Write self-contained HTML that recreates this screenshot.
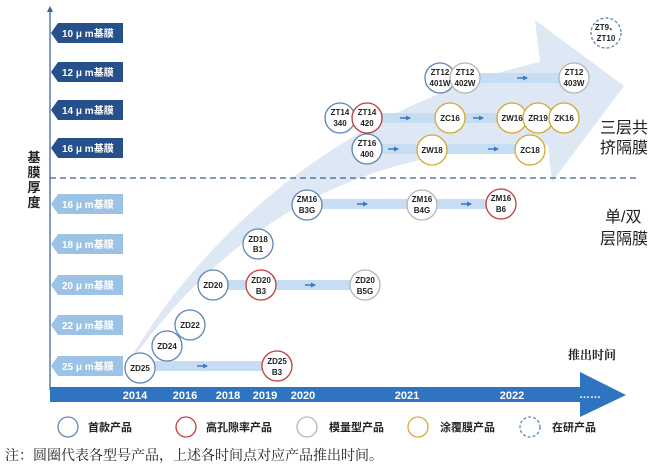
<!DOCTYPE html>
<html><head><meta charset="utf-8"><style>
html,body{margin:0;padding:0;background:#fff;}
svg{display:block;}
text{font-family:"Liberation Sans","Noto Sans CJK SC",sans-serif;}
.c{font-size:8px;font-weight:bold;fill:#222;text-anchor:middle;}
.t{font-size:10px;fill:#fff;font-weight:bold;}
.lg{font-size:11px;fill:#222;font-family:"Noto Serif CJK SC",serif;}
.cj{font-family:"Noto Serif CJK SC",serif;fill:#222;}
</style></head><body>
<svg width="666" height="468" viewBox="0 0 666 468" xmlns="http://www.w3.org/2000/svg">
<defs>
<marker id="ah" markerUnits="userSpaceOnUse" markerWidth="5" markerHeight="5" refX="4" refY="2.5" orient="auto"><path d="M0,0 L5,2.5 L0,5z" fill="#3e78c4"/></marker>
</defs>
<path d="M123,372 C190,250 330,110 540,62 L535,20 L624,86 L552,182 L548,145 C380,148 240,205 123,372 Z" fill="#dde8f4"/>
<line x1="50" y1="390" x2="50" y2="10" stroke="#5a7fae" stroke-width="1.5"/>
<path d="M47,12 L50,6 L53,12z" fill="#3a5f95"/>
<line x1="50" y1="178" x2="640" y2="178" stroke="#3d5f92" stroke-width="1.2" stroke-dasharray="6,4"/>
<g>
<path d="M58,23 L123,23 L123,43 L58,43 L51,33z" fill="#25508c"/><text class="t" x="62" y="37">10 μ m基膜</text>
<path d="M58,62 L123,62 L123,82 L58,82 L51,72z" fill="#25508c"/><text class="t" x="62" y="76">12 μ m基膜</text>
<path d="M58,100 L123,100 L123,120 L58,120 L51,110z" fill="#25508c"/><text class="t" x="62" y="114">14 μ m基膜</text>
<path d="M58,138 L123,138 L123,158 L58,158 L51,148z" fill="#25508c"/><text class="t" x="62" y="152">16 μ m基膜</text>
<path d="M58,194 L123,194 L123,214 L58,214 L51,204z" fill="#9cc3e6"/><text class="t" x="62" y="208">16 μ m基膜</text>
<path d="M58,234 L123,234 L123,254 L58,254 L51,244z" fill="#9cc3e6"/><text class="t" x="62" y="248">18 μ m基膜</text>
<path d="M58,275 L123,275 L123,295 L58,295 L51,285z" fill="#9cc3e6"/><text class="t" x="62" y="289">20 μ m基膜</text>
<path d="M58,315 L123,315 L123,335 L58,335 L51,325z" fill="#9cc3e6"/><text class="t" x="62" y="329">22 μ m基膜</text>
<path d="M58,356 L123,356 L123,376 L58,376 L51,366z" fill="#9cc3e6"/><text class="t" x="62" y="370">25 μ m基膜</text>
</g>
<g class="cj" font-size="13" font-weight="bold" text-anchor="middle">
<text x="34" y="162">基</text><text x="34" y="177">膜</text><text x="34" y="192">厚</text><text x="34" y="207">度</text>
</g>
<g fill="#c6ddf3">
<rect x="150" y="361" width="115" height="10"/>
<rect x="222" y="280" width="130" height="10"/>
<rect x="317" y="199" width="172" height="10"/>
<rect x="380" y="144" width="140" height="10"/>
<rect x="380" y="113" width="120" height="10"/>
<rect x="475" y="73" width="90" height="10"/>
</g>
<g stroke="#3e78c4" stroke-width="1.5" marker-end="url(#ah)">
<line x1="197" y1="366" x2="207" y2="366"/>
<line x1="305" y1="285" x2="315" y2="285"/>
<line x1="357" y1="204" x2="367" y2="204"/>
<line x1="461" y1="204" x2="471" y2="204"/>
<line x1="388" y1="149" x2="398" y2="149"/>
<line x1="488" y1="149" x2="498" y2="149"/>
<line x1="400" y1="118" x2="410" y2="118"/>
<line x1="473" y1="118" x2="483" y2="118"/>
<line x1="517" y1="78" x2="527" y2="78"/>
</g>
<g fill="#fff" stroke-width="1.3">
<g stroke="#5e86b3">
<circle cx="140" cy="368" r="15"/><circle cx="167" cy="346" r="15"/><circle cx="190" cy="325" r="15"/>
<circle cx="213" cy="285" r="15"/><circle cx="258" cy="244" r="15"/><circle cx="307" cy="205" r="15"/>
<circle cx="367" cy="149" r="15"/><circle cx="340" cy="118" r="15"/><circle cx="440" cy="78" r="15"/>
</g>
<g stroke="#c23b3b">
<circle cx="277" cy="366" r="15"/><circle cx="261" cy="285" r="15"/><circle cx="501" cy="204" r="15"/><circle cx="367" cy="118" r="15"/>
</g>
<g stroke="#b5b5b5">
<circle cx="365" cy="285" r="15"/><circle cx="422" cy="205" r="15"/><circle cx="465" cy="78" r="15"/><circle cx="574" cy="78" r="15"/>
</g>
<g stroke="#d4a838">
<circle cx="432" cy="150" r="15"/><circle cx="530" cy="150" r="15"/><circle cx="450" cy="118" r="15"/>
<circle cx="512" cy="118" r="15"/><circle cx="538" cy="118" r="15"/><circle cx="564" cy="118" r="15"/>
</g>
<circle cx="606" cy="33" r="15" stroke="#5e86b3" stroke-dasharray="3,2"/>
</g>
<g class="c">
<text x="140" y="371">ZD25</text><text x="167" y="349">ZD24</text><text x="190" y="328">ZD22</text>
<text x="213" y="288">ZD20</text>
<text x="258" y="242">ZD18</text><text x="258" y="252">B1</text>
<text x="261" y="283">ZD20</text><text x="261" y="294">B3</text>
<text x="365" y="283">ZD20</text><text x="365" y="294">B5G</text>
<text x="277" y="364">ZD25</text><text x="277" y="375">B3</text>
<text x="307" y="202">ZM16</text><text x="307" y="213">B3G</text>
<text x="422" y="202">ZM16</text><text x="422" y="213">B4G</text>
<text x="501" y="201">ZM16</text><text x="501" y="212">B6</text>
<text x="367" y="146">ZT16</text><text x="367" y="157">400</text>
<text x="432" y="153">ZW18</text><text x="530" y="153">ZC18</text>
<text x="340" y="115">ZT14</text><text x="340" y="126">340</text>
<text x="367" y="115">ZT14</text><text x="367" y="126">420</text>
<text x="450" y="121">ZC16</text><text x="512" y="121">ZW16</text><text x="538" y="121">ZR19</text><text x="564" y="121">ZK16</text>
<text x="440" y="75">ZT12</text><text x="440" y="86">401W</text>
<text x="465" y="75">ZT12</text><text x="465" y="86">402W</text>
<text x="574" y="75">ZT12</text><text x="574" y="86">403W</text>
<text x="606" y="30">ZT9、</text><text x="606" y="41">ZT10</text>
</g>
<g class="cj" font-size="16">
<text x="600" y="133">三层共</text><text x="600" y="153">挤隔膜</text>
<text x="605" y="222">单/双</text><text x="600" y="244">层隔膜</text>
</g>
<text x="568" y="359" class="cj" font-size="12" font-weight="bold">推出时间</text>
<rect x="50" y="387" width="532" height="15" fill="#2f74c0"/>
<path d="M580,372 L626,395 L580,417z" fill="#2f74c0"/>
<g font-size="11" font-weight="bold" fill="#fff" text-anchor="middle">
<text x="135" y="399">2014</text><text x="185" y="399">2016</text><text x="228" y="399">2018</text>
<text x="265" y="399">2019</text><text x="303" y="399">2020</text><text x="407" y="399">2021</text>
<text x="512" y="399">2022</text><text x="590" y="398">……</text>
</g>
<g fill="none" stroke-width="1.3">
<circle cx="68" cy="427" r="10" stroke="#5e86b3"/>
<circle cx="186" cy="427" r="10" stroke="#c23b3b"/>
<circle cx="307" cy="427" r="10" stroke="#b5b5b5"/>
<circle cx="418" cy="427" r="10" stroke="#d4a838"/>
<circle cx="530" cy="427" r="10" stroke="#5e86b3" stroke-dasharray="3,2"/>
</g>
<g class="lg" font-weight="bold">
<text x="88" y="431">首款产品</text><text x="206" y="431">高孔隙率产品</text><text x="329" y="431">模量型产品</text>
<text x="440" y="431">涂覆膜产品</text><text x="552" y="431">在研产品</text>
</g>
<text x="5" y="460" class="cj" font-size="14">注：圆圈代表各型号产品，上述各时间点对应产品推出时间。</text>
</svg>
</body></html>
